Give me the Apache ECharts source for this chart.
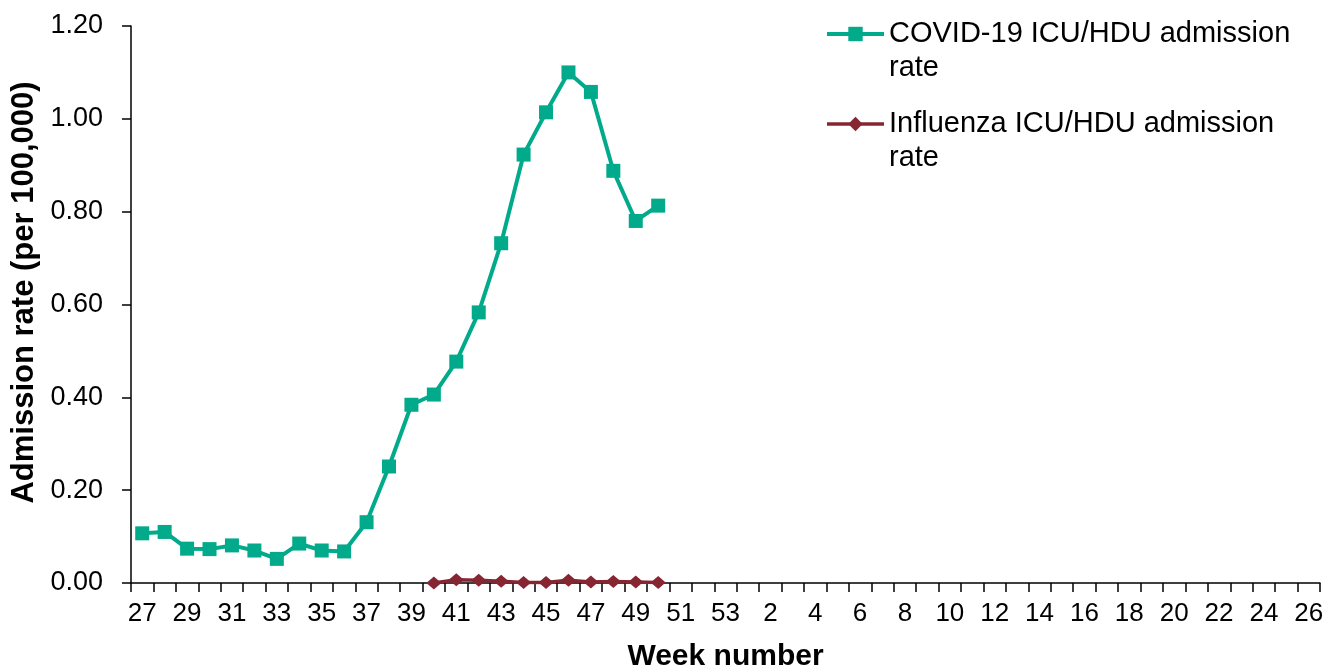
<!DOCTYPE html>
<html>
<head>
<meta charset="utf-8">
<script src="https://cdn.jsdelivr.net/npm/echarts@6/dist/echarts.min.js"></script>
<style>
html,body{margin:0;padding:0;background:#fff;overflow:hidden;}
#chart{width:1325px;height:670px;}
</style>
</head>
<body>
<div id="chart"></div>
<script>
// Week categories: 27..53 then 1..26
const weeks = [27,28,29,30,31,32,33,34,35,36,37,38,39,40,41,42,43,44,45,46,47,48,49,50,51,52,53,
  1,2,3,4,5,6,7,8,9,10,11,12,13,14,15,16,17,18,19,20,21,22,23,24,25,26];

// COVID-19 ICU/HDU admission rate, weeks 27..50
const covidRate = [0.107,0.110,0.074,0.073,0.081,0.070,0.052,0.085,0.070,0.068,0.131,0.251,
  0.384,0.406,0.477,0.583,0.732,0.923,1.014,1.100,1.058,0.888,0.780,0.813];

// Influenza ICU/HDU admission rate, weeks 40..50 (none before week 40)
const fluStartWeek = 40;
const fluRate = [0.000,0.007,0.006,0.004,0.001,0.001,0.006,0.002,0.003,0.002,0.001];

const seriesNames = ['COVID-19 ICU/HDU admission rate', 'Influenza ICU/HDU admission rate'];
const yTicks = { min: 0, max: 1.2, interval: 0.2 };

const covidData = weeks.map((w, i) => i < covidRate.length ? covidRate[i] : null);
const fluOffset = weeks.indexOf(fluStartWeek);
const fluData = weeks.map((w, i) => (i >= fluOffset && i - fluOffset < fluRate.length) ? fluRate[i - fluOffset] : null);

const GREEN = '#00AA8A';
const MAROON = '#862633';
const FONT = '"Liberation Sans", Arial, sans-serif';
const chart = echarts.init(document.getElementById('chart'), null, { renderer: 'canvas' });
chart.setOption({
  animation: false,
  backgroundColor: '#ffffff',
  grid: { left: 131, right: 5, top: 26, bottom: 87, containLabel: false, outerBoundsMode: 'none' },
  legend: {
    orient: 'vertical',
    left: 820,
    top: -22,
    itemGap: -12,
    itemWidth: 57,
    itemHeight: 18,
    padding: 5,
    formatter: name => '\n' + name.replace(' rate', '\nrate'),
    textStyle: { fontFamily: FONT, fontSize: 29, color: '#000', lineHeight: 34 },
    data: [
      { name: seriesNames[0], lineStyle: { width: 4, color: GREEN }, itemStyle: { color: GREEN } },
      { name: seriesNames[1], lineStyle: { width: 3.5, color: MAROON }, itemStyle: { color: MAROON } }
    ]
  },
  xAxis: {
    type: 'category',
    data: weeks,
    boundaryGap: true,
    name: 'Week number',
    nameLocation: 'middle',
    nameGap: 59,
    nameTextStyle: { fontFamily: FONT, fontSize: 30, fontWeight: 'bold', color: '#000' },
    axisLine: { lineStyle: { color: '#000', width: 1.5 } },
    axisTick: { show: true, length: 9, alignWithLabel: false, interval: 0, lineStyle: { color: '#000', width: 1.5 } },
    axisLabel: { interval: 1, margin: 18, fontFamily: FONT, fontSize: 26, color: '#000' },
    splitLine: { show: false }
  },
  yAxis: {
    type: 'value',
    min: yTicks.min, max: yTicks.max, interval: yTicks.interval,
    name: 'Admission rate (per 100,000)',
    nameLocation: 'middle',
    nameGap: 90,
    nameTextStyle: { fontFamily: FONT, fontSize: 31, fontWeight: 'bold', color: '#000', padding: [0, 0, 0, 24] },
    axisLine: { show: true, lineStyle: { color: '#000', width: 1.5 } },
    axisTick: { show: true, length: 9, lineStyle: { color: '#000', width: 1.5 } },
    axisLabel: { margin: 28, fontFamily: FONT, fontSize: 27, color: '#000', formatter: v => v.toFixed(2) },
    splitLine: { show: false }
  },
  series: [
    {
      name: seriesNames[0],
      type: 'line',
      data: covidData,
      connectNulls: false,
      symbol: 'rect',
      symbolSize: 14,
      showAllSymbol: true,
      color: GREEN,
      lineStyle: { width: 4, color: GREEN },
      itemStyle: { color: GREEN },
      z: 3
    },
    {
      name: seriesNames[1],
      type: 'line',
      data: fluData,
      symbol: 'diamond',
      symbolSize: [15, 13],
      showAllSymbol: true,
      color: MAROON,
      lineStyle: { width: 3.5, color: MAROON },
      itemStyle: { color: MAROON },
      z: 2
    }
  ]
});
</script>
</body>
</html>
